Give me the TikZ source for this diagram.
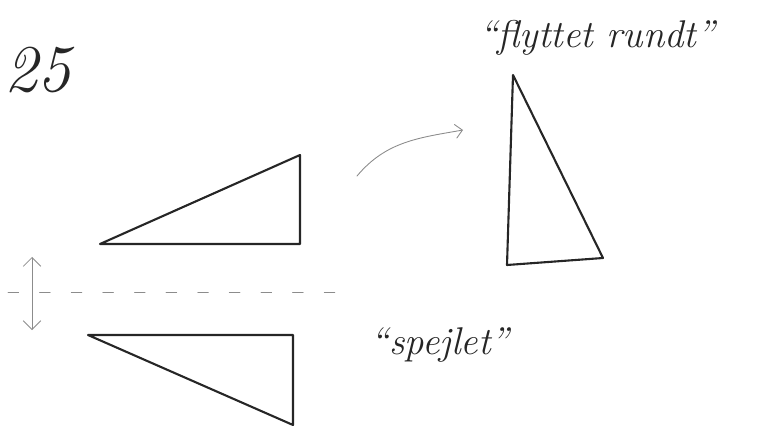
\documentclass[tikz,border=0pt]{standalone}
\usepackage{tikz}
\usetikzlibrary{arrows.meta}

\begin{document}
\begin{tikzpicture}[
	x=0.02cm, y=-0.02cm,
	line cap=round,
	line join=round,
	sketch/.style={line width=1.2pt, black!85},
	helper/.style={line width=0.5pt, black!45},
	label/.style={font=\fontsize{22}{26}\selectfont\itshape, text=black!85, inner sep=0pt}
	]
	% Frame
	\useasboundingbox (0,0) rectangle (764,432);
	
	% Number in the corner
	\node[label, font=\fontsize{38}{42}\selectfont\itshape, anchor=west] (num) at (4,70) {25};
	
	% Original triangle
	\draw[sketch] (100,244) -- (300,155) -- (300,244) -- cycle;
	
	% Turned triangle
	\draw[sketch] (513,75) -- (507,265) -- (603,258) -- cycle;
	
	% Mirrored triangle
	\draw[sketch] (88,335) -- (293,335) -- (293,425) -- cycle;
	
	% Curved arrow between the upper triangles
	\coordinate (from) at (357,176);
	\coordinate (to) at (463,130);
	\draw[helper, -{Straight Barb[length=4pt]}] (from) to[out=50, in=190] (to);
	
	% Mirror line
	\draw[helper, dash pattern=on 6pt off 12pt] (8,292) -- (355,292);
	
	% Double arrow across the mirror line
	\coordinate (up) at (32,257);
	\coordinate (down) at (32,330);
	\draw[helper, {Straight Barb[length=5pt]}-{Straight Barb[length=5pt]}] (up) -- (down);
	
	% Labels
	\node[label] (moved) at (597,38) {``flyttet rundt''};
	\node[label] (mirror) at (440,345) {``spejlet''};
\end{tikzpicture}
\end{document}
